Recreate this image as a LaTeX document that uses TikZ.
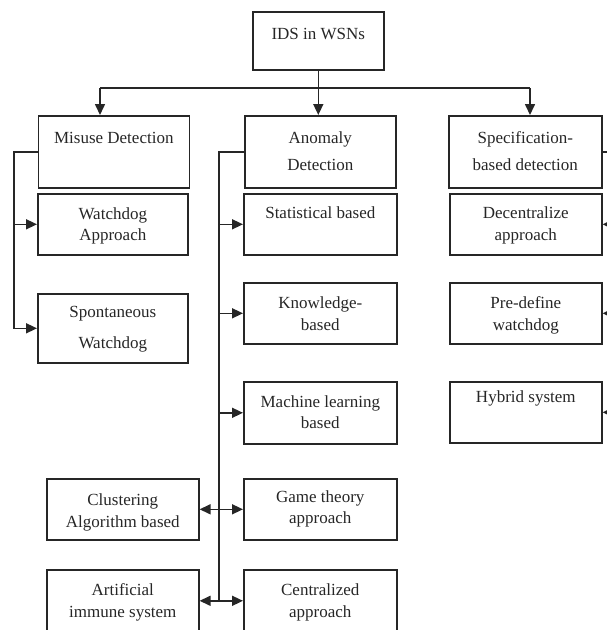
\documentclass[tikz,border=0pt]{standalone}
\usepackage{fontspec}
\setmainfont{Liberation Serif}
\usetikzlibrary{arrows.meta,calc}
\newcommand\bt[5]{\parbox[c][#2pt][t]{#1pt}{\fontsize{17}{#4}\selectfont\centering\rule{0pt}{#3pt}#5\par}}
\begin{document}
\begin{tikzpicture}[x=1pt,y=-1pt,
  box/.style={draw=black!85, line width=1.6pt, inner sep=0pt, anchor=north west, text=black!85},
  con/.style={draw=black!85, line width=1.6pt},
  arr/.style={con, -{Triangle[length=11pt,width=10pt]}},
  darr/.style={con, {Triangle[length=11pt,width=10pt]}-{Triangle[length=11pt,width=10pt]}}]
\useasboundingbox (0,0) rectangle (607,630);
\clip (0,0) rectangle (607,630);
\node[box] (ids) at (252,11) {\bt{131}{58}{28}{21}{IDS in WSNs}};
\node[box] (mis) at (37.5,115) {\bt{151}{72}{28}{27}{Misuse Detection}};
\node[box] (ano) at (244,115) {\bt{151}{72}{28}{27}{Anomaly\\Detection}};
\node[box] (spe) at (448,115) {\bt{153}{72}{28}{27}{Specification-\\based detection}};
\node[box] (wat) at (37,193) {\bt{150}{61}{26}{21}{Watchdog\\Approach}};
\node[box] (spo) at (37,293) {\bt{150}{69}{24}{31}{Spontaneous\\Watchdog}};
\node[box] (sta) at (243,193) {\bt{153}{61}{25}{21}{Statistical based}};
\node[box] (kno) at (243,282) {\bt{153}{61}{26}{22}{Knowledge-\\based}};
\node[box] (mac) at (243,381) {\bt{153}{62}{26}{21}{Machine learning\\based}};
\node[box] (gam) at (243,478) {\bt{153}{61}{24}{21}{Game theory\\approach}};
\node[box] (cen) at (243,569) {\bt{153}{62}{26}{22}{Centralized\\approach}};
\node[box] (dec) at (449,193) {\bt{152}{61}{25}{22}{Decentralize\\approach}};
\node[box] (pre) at (449,282) {\bt{152}{61}{26}{22}{Pre-define\\watchdog}};
\node[box] (hyb) at (449,381) {\bt{152}{61}{21}{21}{Hybrid system}};
\node[box] (clu) at (46,478) {\bt{152}{61}{27}{22}{Clustering\\Algorithm based}};
\node[box] (art) at (46,569) {\bt{152}{62}{26}{22}{Artificial\\immune system}};
% top level
\coordinate (jL) at (100,88);
\coordinate (jR) at (530,88);
\draw[con] (ids.south) -- (ids.south |- jL);
\draw[con] (jL) -- (jR);
\draw[arr] (jL) -- (jL |- mis.north);
\draw[arr] (ids.south |- jL) -- (ids.south |- ano.north);
\draw[arr] (jR) -- (jR |- spe.north);
% misuse
\coordinate (mx) at (14,0);
\draw[arr] (mis.west) -- (mis.west -| mx) |- (spo.west);
\draw[arr] (wat.west -| mx) -- (wat.west);
% anomaly
\coordinate (ax) at (219,0);
\draw[con] (ano.west) -- (ano.west -| ax) -- (ax |- cen.west);
\draw[arr] (sta.west -| ax) -- (sta.west);
\draw[arr] (kno.west -| ax) -- (kno.west);
\draw[arr] (mac.west -| ax) -- (mac.west);
\draw[darr] (clu.east) -- (gam.west);
\draw[darr] (art.east) -- (cen.west);
% specification
\coordinate (sx) at (612,0);
\draw[con] (spe.east) -- (spe.east -| sx) -- (sx |- hyb.east);
\draw[arr] (dec.east -| sx) -- (dec.east);
\draw[arr] (pre.east -| sx) -- (pre.east);
\draw[arr] (hyb.east -| sx) -- (hyb.east);
\end{tikzpicture}
\end{document}
